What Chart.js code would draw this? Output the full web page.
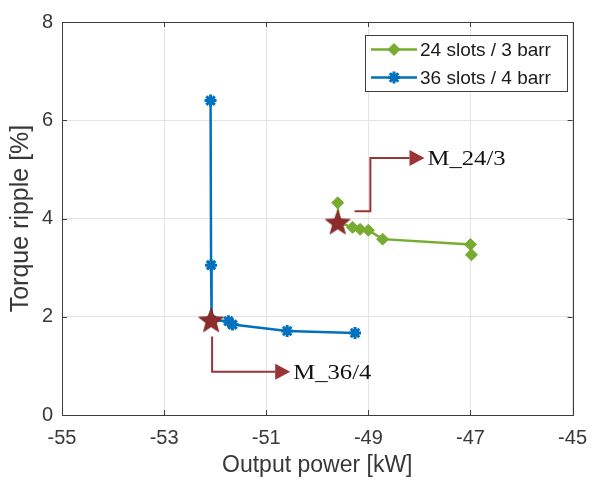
<!DOCTYPE html>
<html>
<head>
<meta charset="utf-8">
<script src="https://cdn.jsdelivr.net/npm/chart.js@4.4.1/dist/chart.umd.min.js"></script>
<style>
html,body{margin:0;padding:0;background:#fff;}
#wrap{width:598px;height:484px;position:relative;}
</style>
</head>
<body>
<div id="wrap"><canvas id="c" width="598" height="484"></canvas></div>
<script>
// ---- data ----
const xTicks = [-55, -53, -51, -49, -47, -45];
const yTicks = [0, 2, 4, 6, 8];

const series24Label = '24 slots / 3 barr';
const series24X = [-49.60, -49.58, -49.31, -49.16, -49.00, -48.72, -47.00, -46.98];
const series24Y = [4.32, 3.92, 3.82, 3.78, 3.76, 3.58, 3.47, 3.26];

const series36Label = '36 slots / 4 barr';
const series36X = [-52.09, -52.08, -52.07, -51.74, -51.66, -50.59, -49.26];
const series36Y = [6.40, 3.05, 1.93, 1.91, 1.84, 1.71, 1.67];

const markerLabels = ['M_24/3', 'M_36/4'];
const markerX = [-49.60, -52.08];
const markerY = [3.92, 1.93];

// annotation arrow paths (data units) and label anchors
const arrow24X = [-49.27, -48.96, -48.96, -47.90];
const arrow24Y = [4.15, 4.15, 5.23, 5.23];
const arrow36X = [-52.06, -52.06, -50.53];
const arrow36Y = [1.60, 0.88, 0.88];
const labelX = [-47.84, -50.47];
const labelY = [5.23, 0.88];

// ---- styles ----
const GREEN = '#77AC30';
const BLUE = '#0072BD';
const DARKRED = '#8E2B2B';
const ARROWRED = '#9B3434';
const SANS = '"Liberation Sans", Arial, sans-serif';

function makeStar(size){
  const c = document.createElement('canvas');
  c.width = size; c.height = size;
  const g = c.getContext('2d');
  const cx = size/2, cy = size/2 + 1, R = size/2 - 1, r = R*0.42;
  g.beginPath();
  for (let i = 0; i < 10; i++){
    const a = -Math.PI/2 + i*Math.PI/5;
    const rr = (i % 2 === 0) ? R : r;
    const px = cx + rr*Math.cos(a), py = cy + rr*Math.sin(a);
    if (i === 0) g.moveTo(px, py); else g.lineTo(px, py);
  }
  g.closePath();
  g.fillStyle = DARKRED;
  g.fill();
  g.strokeStyle = '#6e1f1f';
  g.lineWidth = 0.8;
  g.stroke();
  return c;
}
const starImg = makeStar(28);

const zip = (xs, ys) => xs.map((x, i) => ({x: x, y: ys[i]}));

const framePlugin = {
  id: 'frame',
  beforeDatasetsDraw(chart){
    const {ctx, chartArea: a, scales: {x, y}} = chart;
    ctx.save();
    ctx.strokeStyle = '#3d3d3d';
    ctx.lineWidth = 1;
    ctx.beginPath();
    xTicks.forEach(v => {
      const px = Math.round(x.getPixelForValue(v)) + 0.5;
      ctx.moveTo(px, a.bottom); ctx.lineTo(px, a.bottom - 5);
      ctx.moveTo(px, a.top); ctx.lineTo(px, a.top + 5);
    });
    yTicks.forEach(v => {
      const py = Math.round(y.getPixelForValue(v)) + 0.5;
      ctx.moveTo(a.left, py); ctx.lineTo(a.left + 5, py);
      ctx.moveTo(a.right, py); ctx.lineTo(a.right - 5, py);
    });
    ctx.stroke();
    ctx.strokeRect(Math.round(a.left) + 0.5, Math.round(a.top) + 0.5,
                   Math.round(a.right - a.left), Math.round(a.bottom - a.top));
    ctx.restore();
  }
};

function drawArrow(ctx, x, y, xs, ys){
  const pts = xs.map((v, i) => [x.getPixelForValue(v), y.getPixelForValue(ys[i])]);
  const n = pts.length;
  const [tx, ty] = pts[n-1];
  const [px, py] = pts[n-2];
  const ang = Math.atan2(ty - py, tx - px);
  const headLen = 15, headW = 8;
  const bx = tx - headLen*Math.cos(ang), by = ty - headLen*Math.sin(ang);
  ctx.strokeStyle = ARROWRED;
  ctx.fillStyle = ARROWRED;
  ctx.lineWidth = 2;
  ctx.beginPath();
  ctx.moveTo(pts[0][0], pts[0][1]);
  for (let i = 1; i < n-1; i++) ctx.lineTo(pts[i][0], pts[i][1]);
  ctx.lineTo(bx, by);
  ctx.stroke();
  ctx.beginPath();
  ctx.moveTo(tx, ty);
  ctx.lineTo(bx - headW*Math.sin(ang), by + headW*Math.cos(ang));
  ctx.lineTo(bx + headW*Math.sin(ang), by - headW*Math.cos(ang));
  ctx.closePath();
  ctx.fill();
}

const annotPlugin = {
  id: 'annot',
  afterDatasetsDraw(chart){
    const {ctx, scales: {x, y}} = chart;
    ctx.save();
    drawArrow(ctx, x, y, arrow24X, arrow24Y);
    drawArrow(ctx, x, y, arrow36X, arrow36Y);
    ctx.fillStyle = '#111';
    ctx.font = '22px "Liberation Serif", "Times New Roman", serif';
    ctx.textBaseline = 'middle';
    ctx.textAlign = 'left';
    markerLabels.forEach((t, i) => {
      const px = x.getPixelForValue(labelX[i]);
      const py = y.getPixelForValue(labelY[i]);
      ctx.save();
      ctx.translate(px, py + 1);
      ctx.scale(1.12, 1);
      ctx.fillText(t, 0, 0);
      ctx.restore();
    });
    ctx.restore();
  }
};

const legendPlugin = {
  id: 'boxLegend',
  afterDraw(chart){
    const {ctx} = chart;
    const entries = chart.data.datasets.filter(d => d.inLegend);
    const bx = 365, by = 35, bw = 202, bh = 56;
    ctx.save();
    ctx.fillStyle = '#fff';
    ctx.fillRect(bx, by, bw, bh);
    ctx.strokeStyle = '#3d3d3d';
    ctx.lineWidth = 1;
    ctx.strokeRect(bx + 0.5, by + 0.5, bw, bh);
    ctx.font = '19px ' + SANS;
    ctx.textBaseline = 'middle';
    entries.forEach((d, i) => {
      const yy = by + bh*(2*i + 1)/4 + 0.5;
      ctx.strokeStyle = d.borderColor;
      ctx.lineWidth = 2.5;
      ctx.beginPath();
      ctx.moveTo(bx + 6, yy); ctx.lineTo(bx + 52, yy);
      ctx.stroke();
      ctx.fillStyle = d.borderColor;
      ctx.strokeStyle = d.borderColor;
      ctx.lineWidth = d.pointBorderWidth || 1;
      Chart.helpers.drawPoint(ctx, {
        pointStyle: d.pointStyle, radius: d.pointRadius, rotation: 0,
        borderWidth: d.pointBorderWidth || 1
      }, bx + 29, yy);
      ctx.fillStyle = '#1a1a1a';
      ctx.fillText(d.label, bx + 55, yy + 1);
    });
    ctx.restore();
  }
};

new Chart(document.getElementById('c'), {
  type: 'scatter',
  data: {
    datasets: [
      {
        label: 'markers',
        data: zip(markerX, markerY),
        pointStyle: starImg,
        showLine: false,
        order: 0,
        inLegend: false
      },
      {
        label: series24Label,
        data: zip(series24X, series24Y),
        showLine: true,
        borderColor: GREEN,
        backgroundColor: GREEN,
        pointBackgroundColor: GREEN,
        pointBorderColor: GREEN,
        borderWidth: 2.5,
        pointStyle: 'rectRot',
        pointRadius: 6,
        pointBorderWidth: 1,
        order: 1,
        inLegend: true
      },
      {
        label: series36Label,
        data: zip(series36X, series36Y),
        showLine: true,
        borderColor: BLUE,
        backgroundColor: BLUE,
        pointBackgroundColor: BLUE,
        pointBorderColor: BLUE,
        borderWidth: 2.5,
        pointStyle: 'star',
        pointRadius: 6,
        pointBorderWidth: 3,
        order: 1,
        inLegend: true
      }
    ]
  },
  options: {
    responsive: false,
    animation: false,
    devicePixelRatio: 1,
    layout: {padding: {top: 22, right: 21, left: 0, bottom: 0}},
    plugins: {
      legend: {display: false},
      tooltip: {enabled: false}
    },
    scales: {
      x: {
        type: 'linear',
        min: -55, max: -45,
        afterBuildTicks: s => { s.ticks = xTicks.map(v => ({value: v})); },
        afterFit: s => { s.height = 69; },
        grid: {color: '#e3e3e3', lineWidth: 1, drawTicks: false},
        border: {display: false},
        ticks: {
          padding: 11,
          color: '#383838',
          font: {family: SANS, size: 20},
          callback: v => String(v)
        },
        title: {
          display: true,
          text: 'Output power [kW]',
          color: '#383838',
          font: {family: SANS, size: 23},
          padding: {top: 0, bottom: 5}
        }
      },
      y: {
        type: 'linear',
        min: 0, max: 8,
        afterBuildTicks: s => { s.ticks = yTicks.map(v => ({value: v})); },
        afterFit: s => { s.width = 62; },
        grid: {color: '#e3e3e3', lineWidth: 1, drawTicks: false},
        border: {display: false},
        ticks: {
          padding: 9,
          color: '#383838',
          font: {family: SANS, size: 20},
          callback: v => String(v)
        },
        title: {
          display: true,
          text: 'Torque ripple [%]',
          color: '#383838',
          font: {family: SANS, size: 25},
          padding: {top: 6, bottom: 0}
        }
      }
    }
  },
  plugins: [framePlugin, annotPlugin, legendPlugin]
});
</script>
</body>
</html>
